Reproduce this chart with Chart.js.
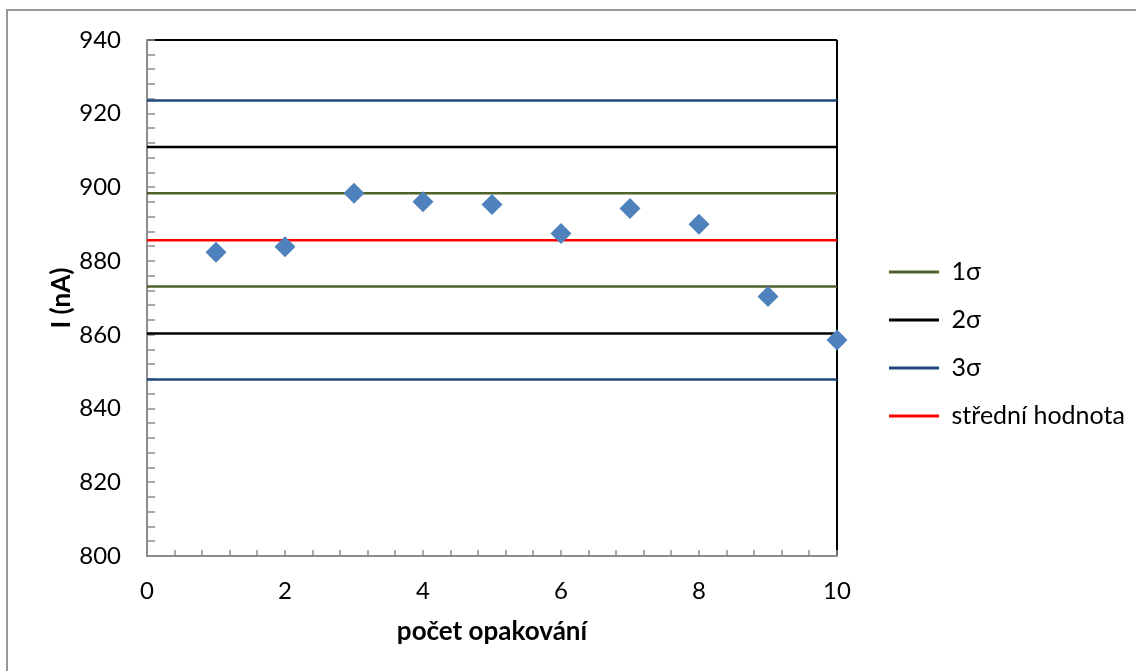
<!DOCTYPE html>
<html>
<head>
<meta charset="utf-8">
<script src="https://cdn.jsdelivr.net/npm/chart.js@4"></script>
<style>
  html, body { margin: 0; padding: 0; background: #fff; }
  #wrap { position: relative; width: 1136px; height: 671px; overflow: hidden; }
  #frame { position: absolute; left: 6px; top: 9px; width: 1200px; height: 700px;
           border-left: 2px solid #999; border-top: 2px solid #999; }
  canvas { position: absolute; left: 0; top: 0; }
</style>
</head>
<body>
<div id="wrap">
  <div id="frame"></div>
  <canvas id="chart" width="1136" height="671"></canvas>
</div>
<script>
// measurements: repetition number vs current (nA)
const repetitions = [1, 2, 3, 4, 5, 6, 7, 8, 9, 10];
const currents = [882.4, 883.9, 898.4, 896.1, 895.4, 887.5, 894.3, 890.0, 870.4, 858.6];

// horizontal reference lines (upper / lower level)
const lineNames = ["1σ", "2σ", "3σ", "střední hodnota"];
const lineColors = ["#4F6228", "#000000", "#1F497D", "#FF0000"];
const upperLevels = [898.4, 911.0, 923.6, 885.7];
const lowerLevels = [873.1, 860.4, 847.9, null];

const xRange = [0, 10];
const yRange = [800, 940];

const font = "Lato";
const legendSize = 25;

function levelLine(i) {
  const pts = [{ x: xRange[0], y: upperLevels[i] }, { x: xRange[1], y: upperLevels[i] }];
  if (lowerLevels[i] !== null) {
    pts.push({ x: xRange[1], y: null });
    pts.push({ x: xRange[0], y: lowerLevels[i] }, { x: xRange[1], y: lowerLevels[i] });
  }
  return {
    label: lineNames[i],
    data: pts,
    showLine: true,
    borderColor: lineColors[i],
    backgroundColor: lineColors[i],
    borderWidth: 2.5,
    pointRadius: 0,
    fill: false
  };
}

const datasets = [{
  label: "I",
  data: repetitions.map((x, i) => ({ x: x, y: currents[i] })),
  pointStyle: "rectRot",
  pointRadius: 10.5,
  backgroundColor: "#4F81BD",
  borderWidth: 0,
  clip: false
}];
lineNames.forEach((n, i) => datasets.push(levelLine(i)));

// legend box should start at x=889 -> work out right padding from text width
const canvas = document.getElementById("chart");
const mctx = canvas.getContext("2d");
mctx.font = legendSize + "px " + font;
const textW = Math.max(...lineNames.map(t => mctx.measureText(t).width));
const legendPad = 48 - legendSize, boxW = 50;
const legendLeft = 889 - legendPad;
const padRight = Math.max(0, canvas.width - legendLeft - (legendPad + boxW + legendSize / 2 + textW + 10));

const baseLabels = Chart.defaults.plugins.legend.labels.generateLabels;
const gray = "#8c8c8c";

new Chart(canvas, {
  type: "scatter",
  data: { datasets: datasets },
  options: {
    responsive: false,
    animation: false,
    events: [],
    layout: { padding: { left: 20, top: 40, right: padRight, bottom: 23 } },
    plugins: {
      tooltip: { enabled: false },
      legend: {
        position: "right",
        labels: {
          font: { family: font, size: legendSize },
          color: "#000",
          boxWidth: boxW,
          boxHeight: 3,
          padding: legendPad,
          filter: item => item.datasetIndex > 0,
          generateLabels: chart => baseLabels(chart).map(l => Object.assign(l, { lineWidth: 0 }))
        }
      }
    },
    scales: {
      x: {
        type: "linear",
        min: xRange[0],
        max: xRange[1],
        afterFit: s => { s.height = 92; },
        border: { color: gray, width: 2 },
        grid: {
          color: c => (c.tick && c.tick.value === xRange[1] ? "#000" : "rgba(0,0,0,0)"),
          lineWidth: 2,
          tickLength: -6,
          tickColor: gray,
          tickWidth: 1.5
        },
        ticks: {
          stepSize: 0.4,
          autoSkip: false,
          maxRotation: 0,
          padding: 27,
          color: "#000",
          font: { family: font, size: 24 },
          callback: v => (Math.abs(v % 2) < 1e-9 ? String(v) : "")
        },
        title: {
          display: true,
          text: "počet opakování",
          color: "#000",
          font: { family: font, size: 26, weight: "bold" },
          padding: { top: 0, bottom: 1 }
        }
      },
      y: {
        min: yRange[0],
        max: yRange[1],
        afterFit: s => { s.width = 127; },
        border: { color: gray, width: 2 },
        grid: {
          color: c => (c.tick && c.tick.value === yRange[1] ? "#000" : "rgba(0,0,0,0)"),
          lineWidth: 2,
          tickLength: -8,
          tickColor: gray,
          tickWidth: 1.5
        },
        ticks: {
          stepSize: 4,
          autoSkip: false,
          padding: 34,
          color: "#000",
          font: { family: font, size: 24, lineHeight: 0.5 },
          callback: v => (v % 20 === 0 ? String(v) : "")
        },
        title: {
          display: true,
          text: "I (nA)",
          color: "#000",
          font: { family: font, size: 26, weight: "bold" },
          padding: { top: 26, bottom: 0 }
        }
      },
      // invisible spacer between the plot and the legend
      frame: {
        type: "linear",
        position: "right",
        display: false,
        afterFit: s => { s.width = 29; }
      }
    }
  }
});
</script>
</body>
</html>
